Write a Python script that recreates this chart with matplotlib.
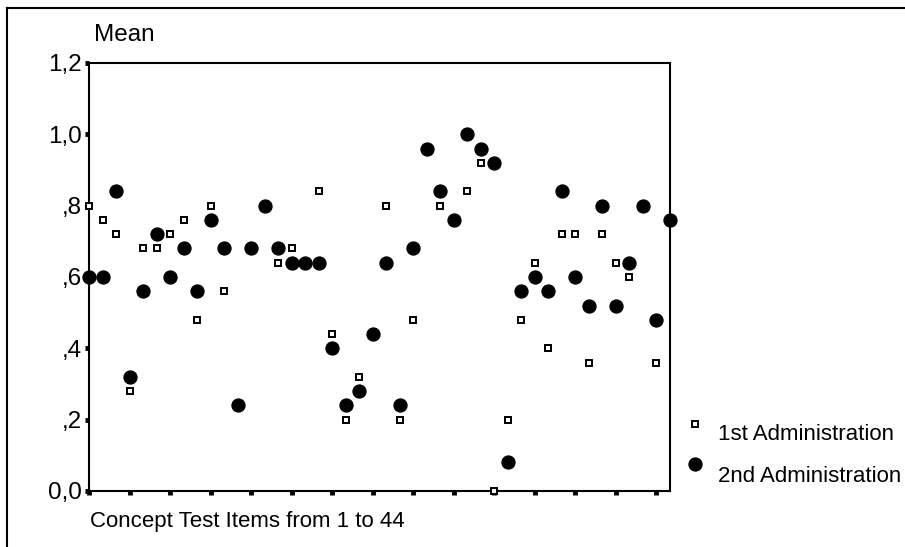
import matplotlib
matplotlib.use("Agg")
import matplotlib.pyplot as plt
from matplotlib.lines import Line2D
import numpy as np

plt.rcParams['font.family'] = ['Liberation Sans', 'DejaVu Sans']

# concept test items 1..44, mean score per administration
items = np.arange(1, 45)
first_admin = [0.80, 0.76, 0.72, 0.28, 0.68, 0.68, 0.72, 0.76, 0.48, 0.80, 0.56,
               0.24, 0.68, 0.80, 0.64, 0.68, 0.64, 0.84, 0.44, 0.20, 0.32, 0.44,
               0.80, 0.20, 0.48, 0.96, 0.80, 0.76, 0.84, 0.92, 0.00, 0.20, 0.48,
               0.64, 0.40, 0.72, 0.72, 0.36, 0.72, 0.64, 0.60, 0.80, 0.36, 0.76]
second_admin = [0.60, 0.60, 0.84, 0.32, 0.56, 0.72, 0.60, 0.68, 0.56, 0.76, 0.68,
                0.24, 0.68, 0.80, 0.68, 0.64, 0.64, 0.64, 0.40, 0.24, 0.28, 0.44,
                0.64, 0.24, 0.68, 0.96, 0.84, 0.76, 1.00, 0.96, 0.92, 0.08, 0.56,
                0.60, 0.56, 0.84, 0.60, 0.52, 0.80, 0.52, 0.64, 0.80, 0.48, 0.76]
y_ticks = [0.0, 0.2, 0.4, 0.6, 0.8, 1.0, 1.2]
y_tick_labels = ["0,0", ",2", ",4", ",6", ",8", "1,0", "1,2"]
legend_labels = ["1st Administration", "2nd Administration"]

W, H = 905, 547
fig = plt.figure(figsize=(W / 100, H / 100), dpi=100)
ax = fig.add_axes([89 / W, 1 - 491 / H, (670 - 89) / W, (491 - 63) / H])

ax.plot(items, first_admin, 's', ms=3.8, mfc='white', mec='black', mew=1.4,
        clip_on=False, zorder=3)
ax.plot(items, second_admin, 'o', ms=9.3, color='black', clip_on=False, zorder=4)

ax.set_xlim(1, 44)
ax.set_ylim(0, 1.2)
ax.set_xticks(np.arange(1, 44, 3))
ax.set_xticklabels([])
ax.set_yticks(y_ticks)
ax.set_yticklabels(y_tick_labels, fontsize=17.5)
ax.tick_params(axis='both', direction='out', length=3, width=3.5, pad=2)
for s in ax.spines.values():
    s.set_linewidth(1.5)

# titles
fig.text(94 / W, 1 - 35 / H, "Mean", fontsize=17.5, ha='left', va='center')
fig.text(90 / W, 1 - 522 / H, "Concept Test Items from 1 to 44", fontsize=16,
         ha='left', va='center')

# legend drawn by hand (marker sits above the text)
fig.add_artist(Line2D([695 / W], [1 - 424 / H], marker='s', ms=3.8, mfc='white',
                      mec='black', mew=1.4, ls='none'))
fig.add_artist(Line2D([695 / W], [1 - 464 / H], marker='o', ms=9.3, color='black',
                      ls='none'))
fig.text(718 / W, 1 - 435 / H, legend_labels[0], fontsize=16, va='center')
fig.text(718 / W, 1 - 477 / H, legend_labels[1], fontsize=16, va='center')

# outer frame
fig.add_artist(Line2D([7 / W, 1], [1 - 8 / H, 1 - 8 / H], color='black', lw=1.5))
fig.add_artist(Line2D([7 / W, 7 / W], [0, 1 - 8 / H], color='black', lw=1.5))

fig.savefig("out.png", dpi=100)
